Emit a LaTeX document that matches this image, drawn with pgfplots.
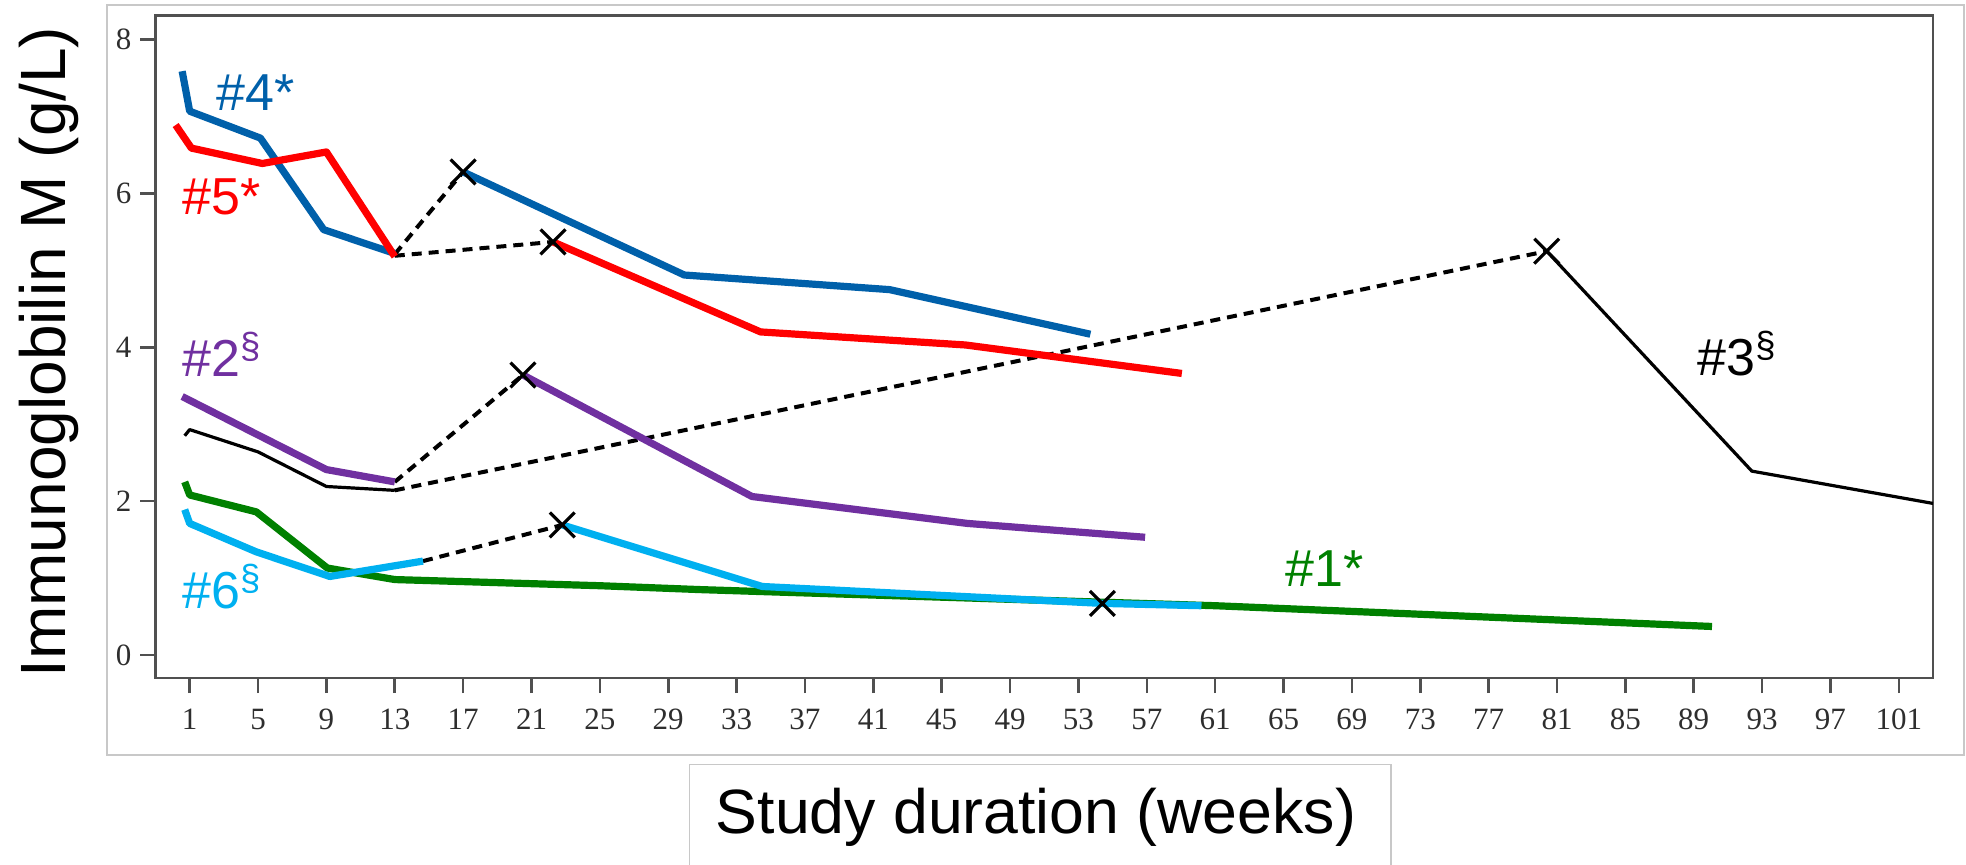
\documentclass[border=0pt]{standalone}
\usepackage{pgfplots}
\pgfplotsset{compat=1.18}
\usepackage{fontspec}
\setmainfont{Liberation Sans}
\newfontfamily\tickfont{Liberation Serif}
\definecolor{cblue}{RGB}{0,96,170}
\definecolor{cred}{RGB}{255,0,0}
\definecolor{cpurple}{RGB}{112,48,160}
\definecolor{cgreen}{RGB}{0,128,0}
\definecolor{ccyan}{RGB}{0,176,240}
\definecolor{framec}{RGB}{80,80,80}
\definecolor{boxgray}{RGB}{200,200,200}
\begin{document}
\begin{tikzpicture}
\draw[boxgray, line width=0.8pt] (-24.4pt,-38.5pt) rectangle (904.25pt,336.5pt);
\begin{axis}[
  at={(0,0)}, anchor=south west,
  scale only axis, width=888.75pt, height=331.2pt,
  xmin=-1, xmax=103, ymin=-0.3, ymax=8.313,
  xtick={1,5,...,101}, ytick={0,2,4,6,8},
  tick pos=left, tick align=outside,
  major tick length=7.5pt,
  axis line style={framec, line width=1.4pt},
  major tick style={framec, line width=1.3pt},
  tick label style={font=\tickfont\fontsize{15.5}{17}\selectfont, text=black!82},
  xticklabel style={yshift=-4.5pt},
  yticklabel style={xshift=-1pt},
  /pgf/number format/assume math mode=true,
  every axis plot/.append style={line join=round},
]
% dashed links
\addplot[black, line width=2pt, dash pattern=on 5pt off 3.5pt] coordinates {(13,5.21) (17,6.28)};
\addplot[black, line width=2pt, dash pattern=on 5pt off 3.5pt] coordinates {(13,5.19) (22.26,5.37)};
\addplot[black, line width=2pt, dash pattern=on 5pt off 3.5pt] coordinates {(13,2.25) (20.5,3.64)};
\addplot[black, line width=2pt, dash pattern=on 5pt off 3.5pt] coordinates {(13,2.14) (80.4,5.25)};
\addplot[black, line width=2pt, dash pattern=on 5pt off 3.5pt] coordinates {(14.65,1.22) (22.8,1.69)};
% #3 black
\addplot[black, line width=1.6pt] coordinates {(0.71,2.85) (1,2.93) (5,2.64) (9,2.19) (13,2.14)};
\addplot[black, line width=1.6pt] coordinates {(80.4,5.25) (92.4,2.39) (103,1.97)};
% #1 green
\addplot[cgreen, line width=3.6pt] coordinates {(0.71,2.25) (1,2.08) (4.9,1.86) (9.05,1.13) (13,0.98) (25,0.90) (30.8,0.85) (35,0.82) (61,0.64) (71.8,0.54) (90.07,0.37)};
% #6 cyan
\addplot[ccyan, line width=3.6pt] coordinates {(0.71,1.89) (1,1.71) (4.9,1.34) (9.2,1.02) (14.65,1.22)};
\addplot[ccyan, line width=3.6pt] coordinates {(22.8,1.69) (34.5,0.89) (54.4,0.67) (60.2,0.64)};
% #2 purple
\addplot[cpurple, line width=3.6pt] coordinates {(0.56,3.36) (9,2.41) (13,2.25)};
\addplot[cpurple, line width=3.6pt] coordinates {(20.5,3.64) (33.9,2.06) (46.5,1.71) (56.9,1.53)};
% #4 blue
\addplot[cblue, line width=3.6pt] coordinates {(0.56,7.59) (1,7.07) (5.14,6.72) (8.84,5.53) (13,5.22)};
\addplot[cblue, line width=3.6pt] coordinates {(17,6.28) (29.94,4.94) (41.95,4.75) (53.7,4.17)};
% #5 red
\addplot[cred, line width=3.6pt] coordinates {(0.18,6.89) (1.1,6.59) (5.25,6.39) (9,6.54) (13,5.18)};
\addplot[cred, line width=3.6pt] coordinates {(22.26,5.37) (34.4,4.20) (46.4,4.03) (59.05,3.66)};
% crosses
\addplot[only marks, mark=x, mark size=8.8pt, black, mark options={line width=1.6pt}] coordinates {(17,6.28) (22.26,5.37) (20.5,3.64) (80.4,5.25) (22.8,1.69) (54.4,0.67)};
% labels
\node[anchor=base west, inner sep=0pt, text=cblue, font=\fontsize{26}{30}\selectfont] at (axis cs:2.57,7.08) {\#4*};
\node[anchor=base west, inner sep=0pt, text=cred, font=\fontsize{26}{30}\selectfont] at (axis cs:0.55,5.73) {\#5*};
\node[anchor=base west, inner sep=0pt, text=cpurple, font=\fontsize{26}{30}\selectfont] at (axis cs:0.55,3.62) {\#2\textsuperscript{§}};
\node[anchor=base west, inner sep=0pt, text=ccyan, font=\fontsize{26}{30}\selectfont] at (axis cs:0.55,0.60) {\#6\textsuperscript{§}};
\node[anchor=base west, inner sep=0pt, text=cgreen, font=\fontsize{26}{30}\selectfont] at (axis cs:65.1,0.89) {\#1*};
\node[anchor=base west, inner sep=0pt, text=black, font=\fontsize{26}{30}\selectfont] at (axis cs:89.2,3.63) {\#3\textsuperscript{§}};
\end{axis}
\draw[boxgray, line width=0.8pt] (266.9pt,-43.15pt) rectangle (617.65pt,-100pt);
\node[anchor=base, inner sep=0pt, font=\fontsize{31.3}{36}\selectfont] at (440.25pt,-77.65pt) {Study duration (weeks)};
\node[rotate=90, anchor=base, inner sep=0pt, font=\fontsize{32}{36}\selectfont] at (-45.2pt,163pt) {Immunoglobilin M (g/L)};
\pgfresetboundingbox
\path[use as bounding box] (-77.75pt,-93pt) rectangle (905.25pt,339pt);
\end{tikzpicture}
\end{document}
